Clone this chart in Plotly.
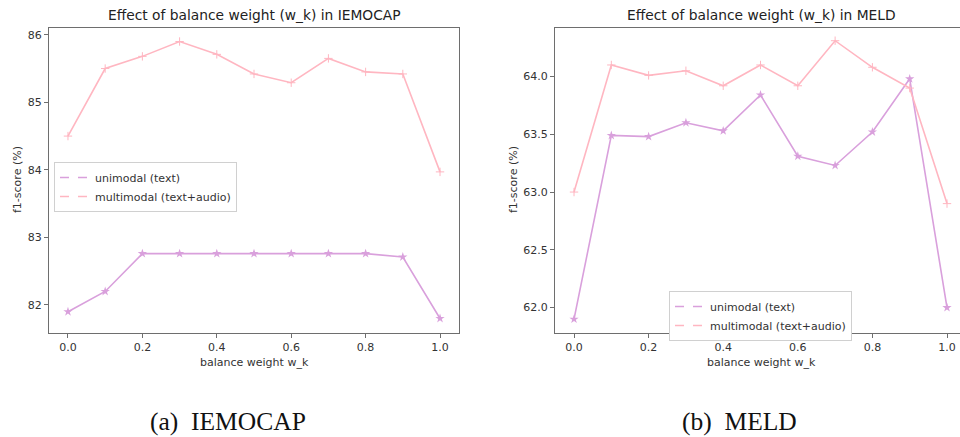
import plotly.graph_objects as go

# ---- data ----
weights = [0.0, 0.1, 0.2, 0.3, 0.4, 0.5, 0.6, 0.7, 0.8, 0.9, 1.0]

iemocap_uni = [81.90, 82.20, 82.76, 82.76, 82.76, 82.76, 82.76, 82.76, 82.76, 82.71, 81.80]
iemocap_multi = [84.50, 85.50, 85.68, 85.90, 85.71, 85.42, 85.29, 85.65, 85.45, 85.42, 83.97]

meld_uni = [61.90, 63.49, 63.48, 63.60, 63.53, 63.84, 63.31, 63.23, 63.52, 63.98, 62.00]
meld_multi = [63.00, 64.10, 64.01, 64.05, 63.92, 64.10, 63.92, 64.31, 64.08, 63.90, 62.90]

x_ticks = [0.0, 0.2, 0.4, 0.6, 0.8, 1.0]
iemocap_yticks = [82, 83, 84, 85, 86]
meld_yticks = [62.0, 62.5, 63.0, 63.5, 64.0]

series_names = ["unimodal (text)", "multimodal (text+audio)"]
titles = ["Effect of balance weight (w_k) in IEMOCAP", "Effect of balance weight (w_k) in MELD"]
captions = ["(a)  IEMOCAP", "(b)  MELD"]

UNI_COLOR = "#d9a0dc"
MULTI_COLOR = "#ffb6c1"
AXIS_COLOR = "#6e6e6e"
TEXT_COLOR = "#333333"
FONT = "DejaVu Sans"

fig = go.Figure()

W, H = 960, 437

def add_panel(idx, uni, multi, legend_name):
    xa = "x" if idx == 0 else "x2"
    ya = "y" if idx == 0 else "y2"
    fig.add_trace(go.Scatter(x=weights, y=uni, mode="lines+markers", xaxis=xa, yaxis=ya,
                             line=dict(color=UNI_COLOR, width=1.6),
                             marker=dict(symbol="star", size=7, color=UNI_COLOR),
                             showlegend=False, cliponaxis=False))
    fig.add_trace(go.Scatter(x=weights, y=multi, mode="lines+markers", xaxis=xa, yaxis=ya,
                             line=dict(color=MULTI_COLOR, width=1.6),
                             marker=dict(symbol="cross-thin", size=6, line=dict(color=MULTI_COLOR, width=1)),
                             showlegend=False, cliponaxis=False))
    for name, col in zip(series_names, [UNI_COLOR, MULTI_COLOR]):
        fig.add_trace(go.Scatter(x=[None], y=[None], mode="lines", xaxis=xa, yaxis=ya,
                                 name=name, line=dict(color=col, width=1.4, dash="dash"),
                                 legend=legend_name, showlegend=True))

add_panel(0, iemocap_uni, iemocap_multi, "legend")
add_panel(1, meld_uni, meld_multi, "legend2")

ytop = 1 - 28 / H
ybot = 1 - 333 / H

axis_common = dict(showline=True, linecolor=AXIS_COLOR, linewidth=1.2, ticks="outside",
                   ticklen=4, tickcolor=AXIS_COLOR, tickwidth=1, showgrid=False, zeroline=False,
                   automargin=False, ticklabeloverflow="allow",
                   tickfont=dict(family=FONT, size=11, color=TEXT_COLOR))

fig.update_layout(
    width=W, height=H,
    margin=dict(l=0, r=0, t=0, b=0),
    paper_bgcolor="white", plot_bgcolor="white",
    font=dict(family=FONT, color=TEXT_COLOR),
    xaxis=dict(domain=[49 / W, 459 / W], range=[-0.051, 1.051], tickvals=x_ticks,
               ticktext=[f"{v:.1f}" for v in x_ticks], anchor="y", mirror=True, **axis_common),
    yaxis=dict(domain=[ybot, ytop], range=[81.585, 86.10], tickvals=iemocap_yticks,
               ticktext=[str(v) for v in iemocap_yticks], anchor="x", mirror=True, **axis_common),
    xaxis2=dict(domain=[555 / W, 1.0], range=[-0.051, (W - 574) / 373.0], tickvals=x_ticks,
                ticktext=[f"{v:.1f}" for v in x_ticks], anchor="y2", mirror=True, **axis_common),
    yaxis2=dict(domain=[ybot, ytop], range=[61.78, 64.42], tickvals=meld_yticks,
                ticktext=[f"{v:.1f}" for v in meld_yticks], anchor="x2", mirror=False, **axis_common),
    legend=dict(x=54 / W, y=1 - 162 / H, xanchor="left", yanchor="top",
                bgcolor="white", bordercolor="#d0d0d0", borderwidth=1,
                font=dict(family=FONT, size=11, color=TEXT_COLOR), itemwidth=30,
                tracegroupgap=0),
    legend2=dict(x=669 / W, y=1 - 291 / H, xanchor="left", yanchor="top",
                 bgcolor="white", bordercolor="#d0d0d0", borderwidth=1,
                 font=dict(family=FONT, size=11, color=TEXT_COLOR), itemwidth=30,
                 tracegroupgap=0),
)

annotations = []
# titles
for cx, t in zip([254, 761], titles):
    annotations.append(dict(x=cx / W, y=1 - 15 / H, xref="paper", yref="paper", text=t,
                            showarrow=False, xanchor="center", yanchor="middle",
                            font=dict(family=FONT, size=13.8, color="#222222")))
# x labels
for cx in [254, 761]:
    annotations.append(dict(x=cx / W, y=1 - 362 / H, xref="paper", yref="paper",
                            text="balance weight w_k", showarrow=False, xanchor="center",
                            yanchor="middle", font=dict(family=FONT, size=11, color=TEXT_COLOR)))
# y labels
for lx in [17, 513]:
    annotations.append(dict(x=lx / W, y=1 - 180 / H, xref="paper", yref="paper",
                            text="f1-score (%)", showarrow=False, textangle=-90,
                            xanchor="center", yanchor="middle",
                            font=dict(family=FONT, size=11, color=TEXT_COLOR)))
# captions
for cx, c in zip([228, 739], captions):
    annotations.append(dict(x=cx / W, y=1 - 421 / H, xref="paper", yref="paper", text=c,
                            showarrow=False, xanchor="center", yanchor="middle",
                            font=dict(family="Liberation Serif", size=25.5, color="#111111")))

fig.update_layout(annotations=annotations)

fig.write_html("out.html", config={"displayModeBar": False},
               post_script="document.body.style.margin='0';document.body.style.overflow='hidden';")
